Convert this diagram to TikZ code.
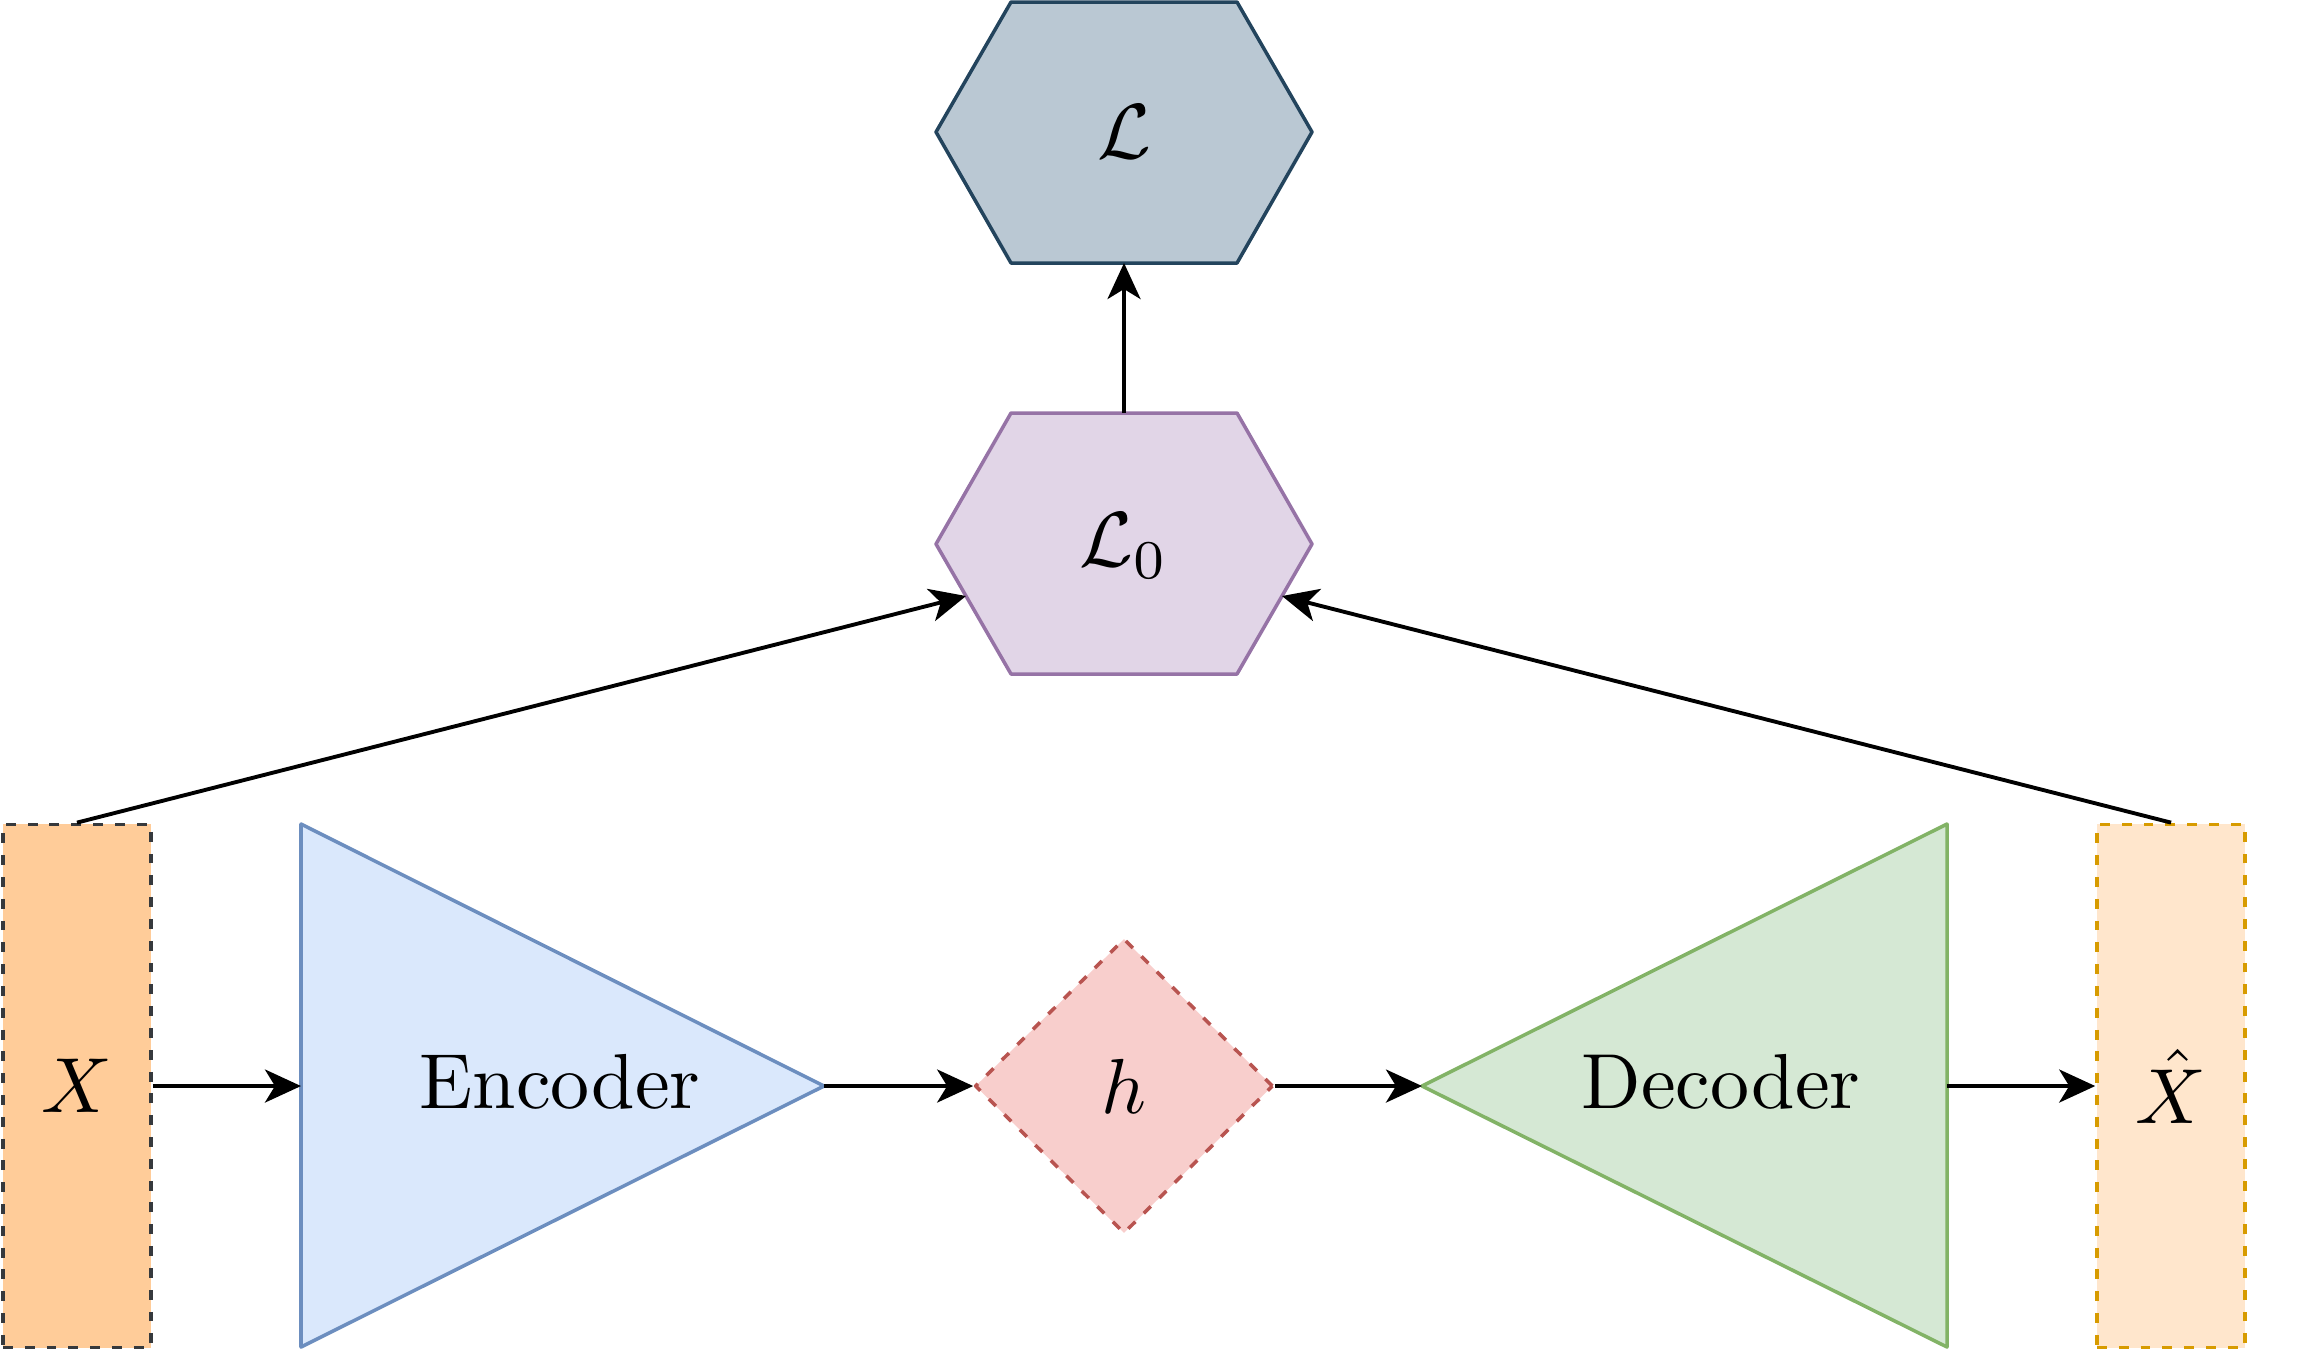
\documentclass[tikz,border=0pt]{standalone}
\usepackage{graphicx}
\usetikzlibrary{arrows.meta,shapes.geometric,calc}
\definecolor{inFill}{HTML}{FFCC99}
\definecolor{inLine}{HTML}{36393D}
\definecolor{encFill}{HTML}{DAE8FC}
\definecolor{encLine}{HTML}{6C8EBF}
\definecolor{hFill}{HTML}{F8CECC}
\definecolor{hLine}{HTML}{B85450}
\definecolor{decFill}{HTML}{D5E8D4}
\definecolor{decLine}{HTML}{82B366}
\definecolor{outFill}{HTML}{FFE6CC}
\definecolor{outLine}{HTML}{D79B00}
\definecolor{lzFill}{HTML}{E1D5E7}
\definecolor{lzLine}{HTML}{9673A6}
\definecolor{lossFill}{HTML}{BAC8D3}
\definecolor{lossLine}{HTML}{23445D}
\newcommand{\lbl}[1]{\scalebox{2.22}{#1}}
\tikzset{
  databox/.style={rectangle, minimum width=1.48cm, minimum height=5.23cm, inner sep=0pt,
    line width=1pt, dash pattern=on 2.8pt off 3.4pt},
  link/.style={->, line width=1.1pt}
}
\begin{document}
\begin{tikzpicture}[x=0.01cm, y=-0.01cm, >={Stealth[length=3.6mm,width=3.3mm,inset=1mm]},
  line join=round]
\useasboundingbox (0,0) rectangle (2304,1350);
\path
(301,824) coordinate (EA)
(301,1347) coordinate (EB)
(824,1086) coordinate (EC)
(1947,824) coordinate (DA)
(1947,1347) coordinate (DB)
(1422,1086) coordinate (DC)
(936,132) coordinate (Lw)
(1011,2) coordinate (Lnw)
(1237,2) coordinate (Lne)
(1312,132) coordinate (Le)
(1237,263) coordinate (Lse)
(1011,263) coordinate (Lsw)
(1124,263) coordinate (Ls)
(936,544) coordinate (Mw)
(1011,413) coordinate (Mnw)
(1237,413) coordinate (Mne)
(1312,544) coordinate (Me)
(1237,674) coordinate (Mse)
(1011,674) coordinate (Msw)
(1124,413) coordinate (Mn)
($(Mw)!0.4!(Msw)$) coordinate (Ma)
($(Me)!0.4!(Mse)$) coordinate (Mb)
;
% shapes
\draw[fill=encFill, draw=encLine, line width=1pt] (EA)--(EC)--(EB)--cycle;
\draw[fill=decFill, draw=decLine, line width=1pt] (DA)--(DC)--(DB)--cycle;
\draw[fill=lossFill, draw=lossLine, line width=1pt] (Lw)--(Lnw)--(Lne)--(Le)--(Lse)--(Lsw)--cycle;
\draw[fill=lzFill, draw=lzLine, line width=1pt] (Mw)--(Mnw)--(Mne)--(Me)--(Mse)--(Msw)--cycle;
\node[databox, fill=inFill, draw=inLine] (X) at (77,1086) {\lbl{$X$}};
\node[databox, fill=outFill, draw=outLine] (Xh) at (2171,1086) {\lbl{$\hat{X}$}};
\node[diamond, minimum width=2.98cm, minimum height=2.95cm, inner sep=0pt, fill=hFill, draw=hLine,
  line width=1pt, dash pattern=on 2.8pt off 3.4pt] (h) at (1124,1086) {\lbl{$h$}};
\node (enc) at (560,1082) {\lbl{Encoder}};
\node (dec) at (1721,1082) {\lbl{Decoder}};
\node (loss) at (1124,132) {\lbl{$\mathcal{L}$}};
\node (lz) at (1124,546) {\lbl{$\mathcal{L}_0$}};
% connectors
\draw[link] (X.east) -- (EA|-EC);
\draw[link] (EC) -- (h.west);
\draw[link] (h.east) -- (DC);
\draw[link] (DA|-DC) -- (Xh.west);
\draw[link] (X.north) -- (Ma);
\draw[link] (Xh.north) -- (Mb);
\draw[link] (Mn) -- (Ls);
\end{tikzpicture}
\end{document}
